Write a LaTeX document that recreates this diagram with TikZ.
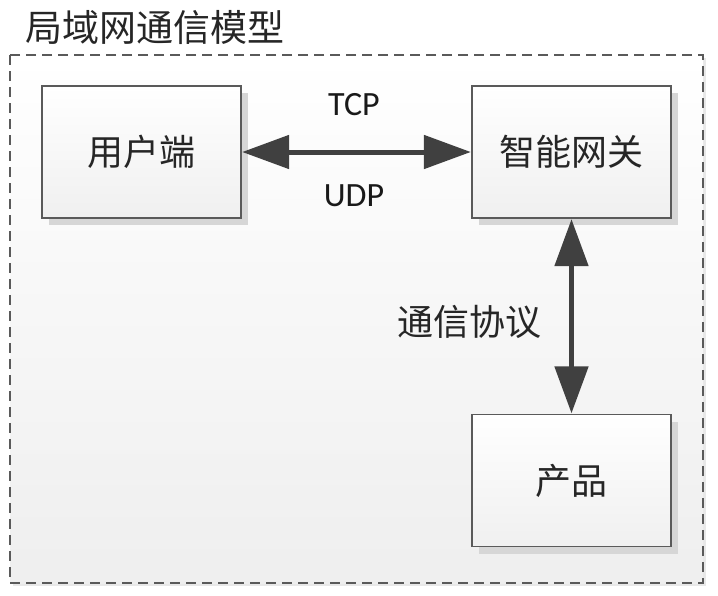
\documentclass[tikz,border=0pt]{standalone}
\usepackage{fontspec}
\newfontfamily\cjk{Noto Sans CJK SC}
\newfontfamily\latinsans{Carlito}
\usetikzlibrary{arrows.meta,shadows}
\definecolor{arrowgray}{HTML}{404040}
\definecolor{edgegray}{HTML}{5A5A5A}
\definecolor{shadowgray}{HTML}{D6D6D6}
\tikzset{
  boxnode/.style={draw=edgegray, line width=1.3pt, top color=white, bottom color=gray!12,
    minimum width=199pt, minimum height=132pt, inner sep=0pt,
    font=\cjk\fontsize{36}{36}\selectfont, text=black!85,
    drop shadow={shadow xshift=7pt, shadow yshift=-7pt, fill=shadowgray, opacity=1}},
  dblarrow/.style={draw=arrowgray, line width=5pt,
    {Triangle[length=47pt,width=33pt]}-{Triangle[length=47pt,width=33pt]}, shorten <=0.5pt, shorten >=0.5pt},
  protolabel/.style={font=\latinsans\fontsize{34}{34}\selectfont, text=black!90},
  cjklabel/.style={font=\cjk\fontsize{36}{36}\selectfont, text=black!85},
}
\begin{document}
\begin{tikzpicture}[x=1pt,y=-1pt]
\useasboundingbox (0,0) rectangle (718,595);
\fill[white] (0,0) rectangle (718,595);
% frame
\fill[gray!18] (13,58) rectangle (706,586);
\shade[top color=white, bottom color=gray!13] (10,55) rectangle (703,583);
\draw[edgegray, line width=1.3pt, dash pattern=on 10pt off 6pt] (10,55) rectangle (703,583);
\node[cjklabel, font=\cjk\fontsize{37}{37}\selectfont, anchor=west, inner sep=0pt] (title) at (25,27) {局域网通信模型};
% boxes
\node[boxnode] (user) at (141.5,152) {用户端};
\node[boxnode] (gw) at (571.5,152) {智能网关};
\node[boxnode] (prod) at (571.5,480.5) {产品};
% arrows
\draw[dblarrow] (user.east) -- (gw.west);
\draw[dblarrow] (gw.south) -- (prod.north);
% labels
\node[protolabel] (tcp) at (354,105) {TCP};
\node[protolabel] (udp) at (354,196) {UDP};
\node[cjklabel] (proto) at (469,322) {通信协议};
\end{tikzpicture}
\end{document}
